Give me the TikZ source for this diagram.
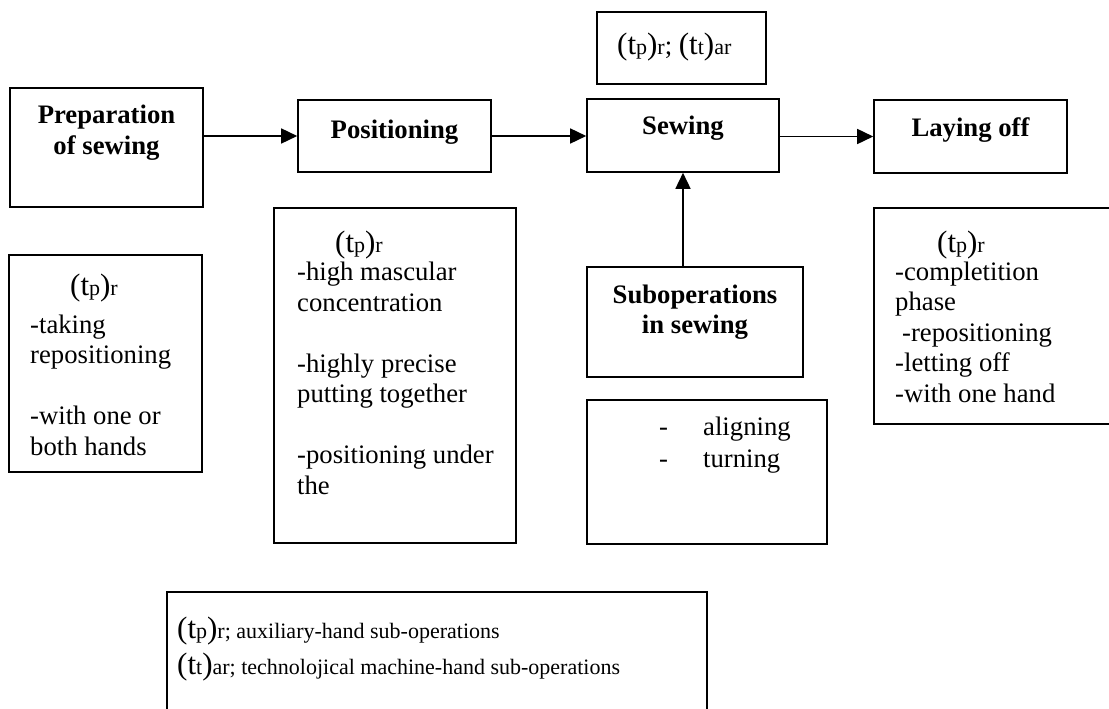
\documentclass[tikz,border=0pt]{standalone}
\usepackage{fontspec}
\setmainfont{Liberation Serif}
\usetikzlibrary{arrows.meta}

% font sizes used in the chart
\newcommand\fbig{\fontsize{31}{36}\selectfont}
\newcommand\fbody{\fontsize{26.7}{30.5}\selectfont}
\newcommand\fsmall{\fontsize{22}{26}\selectfont}
% time symbols (t_p)_r and (t_t)_ar
\newcommand\tpr{{\fbig(t}{\fsmall p}{\fbig)}{\fsmall r}}
\newcommand\ttar{{\fbig(t}{\fsmall t}{\fbig)}{\fsmall ar}}

\tikzset{
  frame/.style={draw, line width=1.6pt, rectangle, inner sep=0pt},
  title/.style={font=\fbody\bfseries, inner sep=0pt, anchor=base},
  % multi-line texts are placed by the baseline of their last line
  body/.style={font=\fbody, inner sep=0pt, anchor=base west, align=left},
  arr/.style={line width=1.6pt, -{Triangle[length=16pt,width=15pt]}}
}

\begin{document}
\begin{tikzpicture}[x=1pt,y=-1pt]
\useasboundingbox (0,0) rectangle (1109,709);
\clip (0,0) rectangle (1109,709);

% main process boxes
\node[frame, minimum width=193pt, minimum height=119pt] (prep) at (106.5,147.5) {};
\node[frame, minimum width=193pt, minimum height=72pt]  (pos)  at (394.5,136) {};
\node[frame, minimum width=192pt, minimum height=73pt]  (sew)  at (683,135.5) {};
\node[frame, minimum width=193pt, minimum height=73pt]  (lay)  at (970.5,136.5) {};
\node[frame, minimum width=216pt, minimum height=110pt] (sub)  at (695,322) {};
\node[frame, minimum width=169pt, minimum height=72pt]  (top)  at (681.5,48) {};

% description boxes
\node[frame, minimum width=193pt, minimum height=217pt] (prepT) at (105.5,363.5) {};
\node[frame, minimum width=242pt, minimum height=335pt] (posT)  at (395,375.5) {};
\node[frame, minimum width=240pt, minimum height=144pt] (subT)  at (707,472) {};
\node[frame, minimum width=242pt, minimum height=216pt] (layT)  at (995,316) {};
\node[frame, minimum width=540pt, minimum height=130pt] (key)   at (437,657) {};

% titles
\node[title] (prepA) at (106.5,124) {Preparation};
\node[title] (prepB) at (106.5,154) {of sewing};
\node[title] (posA)  at (394.5,138) {Positioning};
\node[title] (sewA)  at (683,135) {Sewing};
\node[title] (layA)  at (970.5,136) {Laying off};
\node[title] (subA)  at (695,303) {Suboperations};
\node[title] (subB)  at (695,333) {in sewing};

% symbols and texts
\node[body] (topL) at (617,55) {\tpr; \ttar};

\node[body] (prepH) at (70,295) {\tpr};
\node[body] (prepL) at (30,455) {-taking\\repositioning\\[30.5pt]-with one or\\both hands};

\node[body] (posH) at (335,252) {\tpr};
\node[body] (posL) at (297,494) {-high mascular\\concentration\\[30.5pt]-highly precise\\putting together\\[30.5pt]-positioning under\\the};

\node[body] (subD1) at (659,435) {-};
\node[body] (subL1) at (703,435) {aligning};
\node[body] (subD2) at (659,467) {-};
\node[body] (subL2) at (703,467) {turning};

\node[body] (layH) at (937,252) {\tpr};
\node[body] (layL) at (895,402) {-completition\\phase\\\hspace*{7pt}-repositioning\\-letting off\\-with one hand};

\node[body] (keyA) at (177,638) {\tpr{\fsmall; auxiliary-hand sub-operations}};
\node[body] (keyB) at (177,674) {\ttar{\fsmall; technolojical machine-hand sub-operations}};

% flow
\draw[arr] (prep.east |- pos.west) -- (pos.west);
\draw[arr] (pos.east) -- (sew.west |- pos.east);
\draw[arr] (sew.east |- lay.west) -- (lay.west);
\draw[arr] (sew.south |- sub.north) -- (sew.south);
\end{tikzpicture}
\end{document}
